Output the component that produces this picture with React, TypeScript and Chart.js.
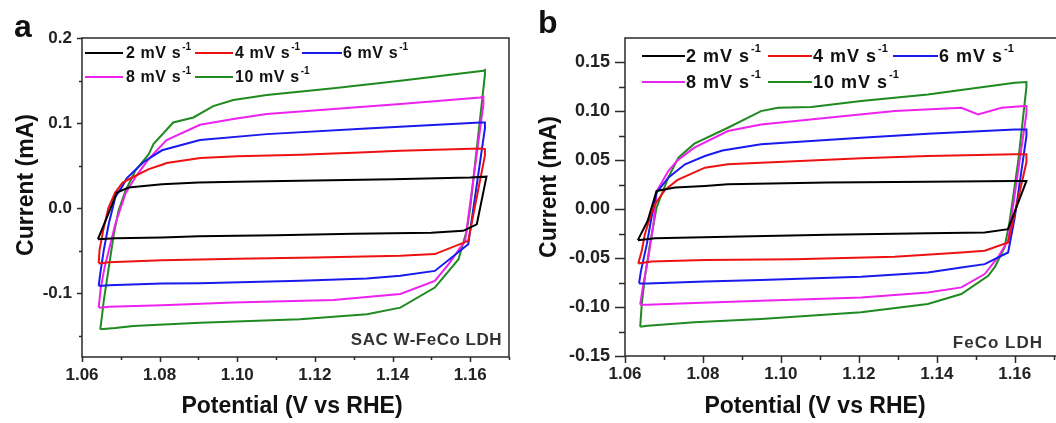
import React, { useEffect, useRef } from 'react';
import { Chart, registerables } from 'chart.js';

Chart.register(...registerables);

const FONT = '"Liberation Sans", Arial, Helvetica, sans-serif';

type Pt = [number, number];

// ---- categories / labels ----
const scanRates = ['2', '4', '6', '8', '10'];
const seriesColors = ['#000000', '#ee1111', '#1a1aee', '#ee22ee', '#1f8a1f'];

const xTickValues = [1.06, 1.07, 1.08, 1.09, 1.1, 1.11, 1.12, 1.13, 1.14, 1.15, 1.16, 1.17];
const xTickLabels = ['1.06', '', '1.08', '', '1.10', '', '1.12', '', '1.14', '', '1.16', ''];

const aYTickValues = [0.2, 0.15, 0.1, 0.05, 0, -0.05, -0.1, -0.15];
const aYTickLabels = ['0.2', '', '0.1', '', '0.0', '', '-0.1', ''];

const bYTickValues = [0.15, 0.125, 0.1, 0.075, 0.05, 0.025, 0, -0.025, -0.05, -0.075, -0.1, -0.125, -0.15];
const bYTickLabels = ['0.15', '', '0.10', '', '0.05', '', '0.00', '', '-0.05', '', '-0.10', '', '-0.15'];

// ---- panel a : SAC W-FeCo LDH (potential V, current mA) ----
const aCV2: Pt[] = [
  [1.0641, -0.0365], [1.0665, -0.01], [1.069, 0.0184], [1.072, 0.0243], [1.0806, 0.0282],
  [1.09, 0.030], [1.10, 0.031], [1.12, 0.0325], [1.14, 0.034], [1.16, 0.036], [1.1642, 0.037],
  [1.1617, -0.019], [1.1582, -0.0267], [1.15, -0.029], [1.13, -0.030], [1.11, -0.032],
  [1.09, -0.033], [1.0806, -0.0345], [1.0686, -0.0353], [1.0641, -0.0365],
];
const aCV4: Pt[] = [
  [1.0643, -0.065], [1.0645, -0.05], [1.0655, -0.025], [1.0668, 0.0], [1.0685, 0.018],
  [1.0705, 0.030], [1.0729, 0.036], [1.0772, 0.0459], [1.0806, 0.051], [1.0818, 0.053],
  [1.0905, 0.059], [1.10, 0.061], [1.1162, 0.0627], [1.13, 0.065], [1.142, 0.0674],
  [1.1626, 0.070], [1.1638, 0.0694], [1.1638, 0.062], [1.1595, -0.0385], [1.1509, -0.054],
  [1.142, -0.056], [1.12, -0.058], [1.10, -0.0595], [1.0806, -0.0612], [1.0669, -0.0635], [1.0643, -0.065],
];
const aCV6: Pt[] = [
  [1.0643, -0.0914], [1.0647, -0.077], [1.0656, -0.0497], [1.0669, -0.0183], [1.0686, 0.0132],
  [1.0703, 0.025], [1.0715, 0.035], [1.0758, 0.054], [1.0806, 0.068], [1.0904, 0.080],
  [1.1076, 0.087], [1.1333, 0.0935], [1.1626, 0.1007], [1.1638, 0.1007], [1.1638, 0.094],
  [1.1595, -0.0424], [1.1509, -0.0738], [1.142, -0.0796], [1.1334, -0.0828], [1.1162, -0.0855],
  [1.0904, -0.0883], [1.0806, -0.0887], [1.0669, -0.0906], [1.0643, -0.0914],
];
const aCV8: Pt[] = [
  [1.0643, -0.117], [1.0648, -0.095], [1.0658, -0.07], [1.0669, -0.0497], [1.0686, -0.0183],
  [1.0712, 0.0171], [1.0737, 0.0361], [1.0772, 0.058], [1.0818, 0.080], [1.0904, 0.098],
  [1.099, 0.1047], [1.1076, 0.1106], [1.1248, 0.1165], [1.142, 0.1224], [1.1626, 0.130],
  [1.1634, 0.131], [1.1634, 0.122], [1.1587, -0.0385], [1.1544, -0.066], [1.1509, -0.0855],
  [1.142, -0.101], [1.1248, -0.108], [1.099, -0.111], [1.0806, -0.1141], [1.0669, -0.1158], [1.0643, -0.117],
];
const aCV10: Pt[] = [
  [1.0647, -0.1424], [1.0652, -0.125], [1.0656, -0.109], [1.0669, -0.0698], [1.0682, -0.0306],
  [1.0694, -0.0031], [1.0712, 0.0204], [1.0737, 0.0439], [1.0772, 0.0635], [1.0784, 0.0753],
  [1.0835, 0.1007], [1.0887, 0.1066], [1.0938, 0.120], [1.099, 0.127], [1.1076, 0.133],
  [1.1248, 0.141], [1.142, 0.1498], [1.1634, 0.1615], [1.1638, 0.1624], [1.1638, 0.157],
  [1.16, 0.0], [1.1591, -0.0267], [1.157, -0.06], [1.1509, -0.0934], [1.142, -0.117],
  [1.1334, -0.1247], [1.1162, -0.1306], [1.0904, -0.1346], [1.0732, -0.1385], [1.0686, -0.141], [1.0647, -0.1424],
];

// ---- panel b : FeCo LDH ----
const bCV2: Pt[] = [
  [1.0633, -0.0316], [1.0658, -0.012], [1.0681, 0.0187], [1.0728, 0.0221], [1.0805, 0.0238],
  [1.0864, 0.0255], [1.112, 0.0272], [1.1377, 0.0282], [1.16, 0.0289], [1.163, 0.0289],
  [1.1583, -0.0204], [1.1523, -0.0238], [1.1377, -0.0245], [1.112, -0.0262], [1.0864, -0.0282],
  [1.0677, -0.0296], [1.0633, -0.0316],
];
const bCV4: Pt[] = [
  [1.0634, -0.0555], [1.0643, -0.0425], [1.0651, -0.0255], [1.0664, -0.0085], [1.0677, 0.0051],
  [1.0703, 0.02], [1.0735, 0.030], [1.0805, 0.0425], [1.0864, 0.046], [1.0949, 0.0476],
  [1.1206, 0.052], [1.1377, 0.0544], [1.16, 0.0561], [1.163, 0.0561], [1.163, 0.048],
  [1.1583, -0.034], [1.1523, -0.0425], [1.1463, -0.0442], [1.1292, -0.0486], [1.1035, -0.051],
  [1.0805, -0.052], [1.0668, -0.0535], [1.0634, -0.0555],
];
const bCV6: Pt[] = [
  [1.0636, -0.0758], [1.0641, -0.063], [1.0656, -0.0357], [1.0668, -0.0085], [1.0681, 0.017],
  [1.0711, 0.0323], [1.0754, 0.0459], [1.0805, 0.0544], [1.085, 0.060], [1.0949, 0.0663],
  [1.1206, 0.0731], [1.1377, 0.0772], [1.16, 0.0816], [1.163, 0.0816], [1.163, 0.075],
  [1.16, -0.0085], [1.1583, -0.0442], [1.1523, -0.0561], [1.1463, -0.0595], [1.1377, -0.0646],
  [1.1206, -0.069], [1.0949, -0.0724], [1.0805, -0.0738], [1.0658, -0.0758], [1.0636, -0.0758],
];
const bCV8: Pt[] = [
  [1.0639, -0.0976], [1.0647, -0.0765], [1.066, -0.0493], [1.0673, -0.0153], [1.0681, 0.018],
  [1.0711, 0.0391], [1.0735, 0.050], [1.0778, 0.063], [1.0864, 0.0799], [1.0949, 0.0867],
  [1.112, 0.0935], [1.1292, 0.1003], [1.1463, 0.1037], [1.1506, 0.0969], [1.1566, 0.1037],
  [1.1626, 0.1054], [1.163, 0.1054], [1.163, 0.098], [1.1583, -0.032], [1.1557, -0.049],
  [1.1523, -0.0663], [1.1463, -0.0799], [1.1377, -0.085], [1.1206, -0.0901], [1.0949, -0.0935],
  [1.0778, -0.0959], [1.0658, -0.0976], [1.0639, -0.0976],
];
const bCV10: Pt[] = [
  [1.0639, -0.1201], [1.0643, -0.0969], [1.0651, -0.0697], [1.0664, -0.0357], [1.0681, 0.0017],
  [1.0694, 0.0153], [1.0711, 0.0323], [1.0737, 0.0527], [1.0778, 0.067], [1.0864, 0.0833],
  [1.0949, 0.1003], [1.0992, 0.1037], [1.1078, 0.1044], [1.1206, 0.1105], [1.1377, 0.1173],
  [1.16, 0.1293], [1.163, 0.130], [1.163, 0.125], [1.1609, 0.0493], [1.1587, -0.0119],
  [1.1574, -0.0391], [1.1549, -0.059], [1.1532, -0.068], [1.1463, -0.0867], [1.1377, -0.0969],
  [1.1206, -0.1054], [1.0949, -0.1122], [1.0778, -0.1156], [1.0658, -0.119], [1.0639, -0.1201],
];

const xTitleText = 'Potential (V vs RHE)';
const yTitleText = 'Current (mA)';

interface LegendItem { x1: number; x2: number; tx: number; y: number; }
interface PanelCfg {
  left: number; width: number; height: number;
  pad: { top: number; right: number };
  yWidth: number; xHeight: number;
  xMin: number; xMax: number; yMin: number; yMax: number;
  yTicks: number[]; yLabels: string[]; yTickFont: number;
  yLabelPad: number; xLabelPad: number;
  majY: number; minY: number; majX: number; minX: number;
  series: Pt[][];
  legend: LegendItem[]; legFont: number; legSup: number; legSpacing: string; supRaise: number;
  letter: { text: string; x: number; y: number };
  inset: { text: string; x: number; y: number; spacing: string };
  xTitle: { x: number; y: number };
  yTitle: { x: number; y: number };
}

const AXIS = '#2a2a2a';
const TXT = '#111111';

const panelA: PanelCfg = {
  left: 0, width: 528, height: 423,
  pad: { top: 38, right: 19 },
  yWidth: 82, xHeight: 66,
  xMin: 1.06, xMax: 1.17, yMin: -0.175, yMax: 0.2,
  yTicks: aYTickValues, yLabels: aYTickLabels, yTickFont: 17,
  yLabelPad: 10, xLabelPad: 8,
  majY: 5, minY: 3, majX: 5, minX: 3,
  series: [aCV2, aCV4, aCV6, aCV8, aCV10],
  legend: [
    { x1: 85, x2: 123, tx: 126, y: 53 },
    { x1: 195, x2: 233, tx: 235, y: 53 },
    { x1: 302, x2: 342, tx: 343, y: 53 },
    { x1: 85, x2: 123, tx: 126, y: 77 },
    { x1: 195, x2: 233, tx: 235, y: 77 },
  ],
  legFont: 16, legSup: 10, legSpacing: '0.6px', supRaise: 6,
  letter: { text: 'a', x: 14, y: 37 },
  inset: { text: 'SAC W-FeCo LDH', x: 502, y: 340, spacing: '0.5px' },
  xTitle: { x: 292, y: 407 },
  yTitle: { x: 27, y: 185 },
};

const panelB: PanelCfg = {
  left: 528, width: 540, height: 423,
  pad: { top: 38, right: 10 },
  yWidth: 97, xHeight: 67,
  xMin: 1.06, xMax: 1.1711, yMin: -0.15, yMax: 0.175,
  yTicks: bYTickValues, yLabels: bYTickLabels, yTickFont: 18,
  yLabelPad: 15, xLabelPad: 8,
  majY: 10, minY: 6, majX: 7, minX: 4,
  series: [bCV2, bCV4, bCV6, bCV8, bCV10],
  legend: [
    { x1: 114, x2: 157, tx: 158, y: 56 },
    { x1: 240, x2: 284, tx: 285, y: 56 },
    { x1: 365, x2: 410, tx: 411, y: 56 },
    { x1: 114, x2: 157, tx: 158, y: 82 },
    { x1: 240, x2: 284, tx: 285, y: 82 },
  ],
  legFont: 18, legSup: 11, legSpacing: '1px', supRaise: 7,
  letter: { text: 'b', x: 10, y: 33 },
  inset: { text: 'FeCo LDH', x: 515, y: 343, spacing: '1px' },
  xTitle: { x: 287, y: 407 },
  yTitle: { x: 22, y: 187 },
};

function makeDecor(cfg: PanelCfg) {
  return {
    id: 'decor',
    afterDraw(chart: any) {
      const ctx: CanvasRenderingContext2D = chart.ctx;
      const { left, right, top, bottom } = chart.chartArea;
      const xs = chart.scales.x;
      const ys = chart.scales.y;
      ctx.save();
      // frame
      ctx.strokeStyle = AXIS;
      ctx.lineWidth = 1.5;
      ctx.strokeRect(left, top, right - left, bottom - top);
      // tick marks
      ctx.beginPath();
      cfg.yTicks.forEach((v, i) => {
        const p = Math.round(ys.getPixelForValue(v)) + 0.5;
        const len = cfg.yLabels[i] ? cfg.majY : cfg.minY;
        ctx.moveTo(left - len, p);
        ctx.lineTo(left, p);
      });
      xTickValues.forEach((v, i) => {
        const p = Math.round(xs.getPixelForValue(v)) + 0.5;
        const len = xTickLabels[i] ? cfg.majX : cfg.minX;
        ctx.moveTo(p, bottom);
        ctx.lineTo(p, bottom + len);
      });
      ctx.stroke();

      // legend
      (ctx as any).letterSpacing = '0px';
      cfg.legend.forEach((it, i) => {
        ctx.strokeStyle = seriesColors[i];
        ctx.lineWidth = 2;
        ctx.beginPath();
        ctx.moveTo(it.x1, it.y);
        ctx.lineTo(it.x2, it.y);
        ctx.stroke();
        ctx.fillStyle = TXT;
        ctx.textAlign = 'left';
        ctx.textBaseline = 'middle';
        ctx.font = `bold ${cfg.legFont}px ${FONT}`;
        (ctx as any).letterSpacing = cfg.legSpacing;
        const label = `${scanRates[i]} mV s`;
        ctx.fillText(label, it.tx, it.y + 1);
        const w = ctx.measureText(label).width;
        ctx.font = `bold ${cfg.legSup}px ${FONT}`;
        (ctx as any).letterSpacing = '0px';
        ctx.fillText('-1', it.tx + w + 1, it.y - cfg.supRaise);
      });

      // inset label
      ctx.font = `bold 17px ${FONT}`;
      (ctx as any).letterSpacing = cfg.inset.spacing;
      ctx.fillStyle = '#333333';
      ctx.textAlign = 'right';
      ctx.textBaseline = 'middle';
      ctx.fillText(cfg.inset.text, cfg.inset.x, cfg.inset.y);
      (ctx as any).letterSpacing = '0px';

      // axis titles
      ctx.fillStyle = TXT;
      ctx.font = `bold 23px ${FONT}`;
      ctx.textAlign = 'center';
      ctx.textBaseline = 'middle';
      ctx.fillText(xTitleText, cfg.xTitle.x, cfg.xTitle.y);
      ctx.save();
      ctx.translate(cfg.yTitle.x, cfg.yTitle.y);
      ctx.rotate(-Math.PI / 2);
      ctx.fillText(yTitleText, 0, 0);
      ctx.restore();

      // panel letter
      ctx.font = `bold 32px ${FONT}`;
      ctx.textAlign = 'left';
      ctx.textBaseline = 'alphabetic';
      ctx.fillText(cfg.letter.text, cfg.letter.x, cfg.letter.y);
      ctx.restore();
    },
  };
}

function Panel({ cfg }: { cfg: PanelCfg }) {
  const ref = useRef<HTMLCanvasElement | null>(null);
  useEffect(() => {
    if (!ref.current) return;
    const chart = new Chart(ref.current, {
      type: 'scatter',
      data: {
        datasets: cfg.series.map((pts, i) => ({
          label: `${scanRates[i]} mV s-1`,
          data: pts.map(([x, y]) => ({ x, y })),
          showLine: true,
          borderColor: seriesColors[i],
          backgroundColor: seriesColors[i],
          borderWidth: 2,
          pointRadius: 0,
          tension: 0,
          fill: false,
        })),
      },
      options: {
        animation: false,
        responsive: false,
        devicePixelRatio: 1,
        layout: { padding: { top: cfg.pad.top, right: cfg.pad.right, left: 0, bottom: 0 } },
        plugins: { legend: { display: false }, tooltip: { enabled: false } },
        scales: {
          x: {
            type: 'linear',
            min: cfg.xMin,
            max: cfg.xMax,
            grid: { display: false, drawTicks: false },
            border: { display: false },
            afterBuildTicks: (s: any) => { s.ticks = xTickValues.map((v) => ({ value: v })); },
            afterFit: (s: any) => { s.height = cfg.xHeight; },
            ticks: {
              autoSkip: false,
              maxRotation: 0,
              minRotation: 0,
              padding: cfg.xLabelPad,
              color: '#222222',
              font: { family: FONT, size: 17, weight: 'bold' },
              callback: (_v: any, i: number) => xTickLabels[i],
            },
          },
          y: {
            type: 'linear',
            min: cfg.yMin,
            max: cfg.yMax,
            grid: { display: false, drawTicks: false },
            border: { display: false },
            afterBuildTicks: (s: any) => { s.ticks = cfg.yTicks.map((v) => ({ value: v })); },
            afterFit: (s: any) => { s.width = cfg.yWidth; },
            ticks: {
              autoSkip: false,
              padding: cfg.yLabelPad,
              color: '#222222',
              font: { family: FONT, size: cfg.yTickFont, weight: 'bold' },
              callback: (_v: any, i: number) => cfg.yLabels[i],
            },
          },
        },
      } as any,
      plugins: [makeDecor(cfg)],
    });
    return () => chart.destroy();
  }, [cfg]);
  return (
    <canvas
      ref={ref}
      width={cfg.width}
      height={cfg.height}
      style={{ position: 'absolute', left: cfg.left, top: 0, width: cfg.width, height: cfg.height }}
    />
  );
}

export default function App() {
  return (
    <div
      style={{
        position: 'absolute', left: 0, top: 0, width: 1056, height: 423,
        overflow: 'hidden', background: '#ffffff',
      }}
    >
      <Panel cfg={panelA} />
      <Panel cfg={panelB} />
    </div>
  );
}
